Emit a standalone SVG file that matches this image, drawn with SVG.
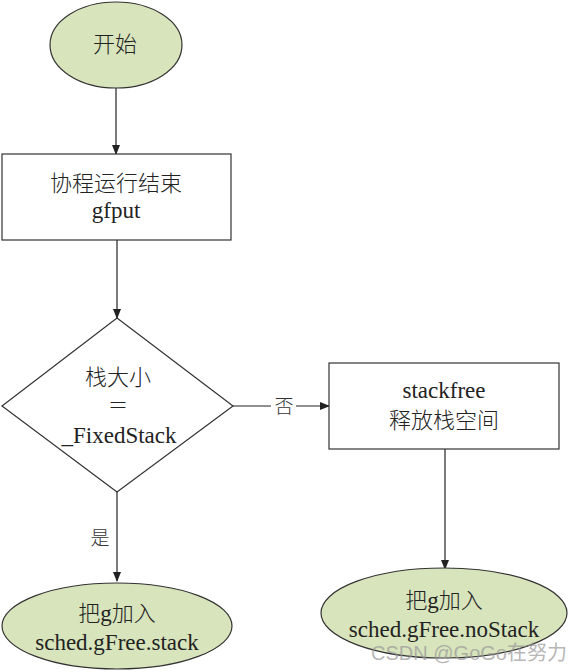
<svg xmlns="http://www.w3.org/2000/svg" width="570" height="672" viewBox="0 0 570 672">
<defs>
<marker id="ah" markerWidth="10" markerHeight="8" refX="9" refY="4" orient="auto" markerUnits="userSpaceOnUse">
<path d="M0,0 L10,4 L0,8 Z" fill="#222"/>
</marker>
<style>
.t{font-family:"Liberation Serif","Times New Roman",Tinos,"DejaVu Serif",serif;font-size:23px;fill:#222;text-anchor:middle}
.c{font-family:"Noto Sans CJK SC","Noto Sans CJK JP",sans-serif;font-size:22px;font-weight:300;fill:#222;text-anchor:middle}
.lbl{font-family:"Noto Sans CJK SC","Noto Sans CJK JP",sans-serif;font-size:19px;font-weight:300;fill:#333;text-anchor:middle}
.term{fill:#d8e4bc;stroke:#333;stroke-width:1.2}
.box{fill:#fff;stroke:#333;stroke-width:1.2}
.ln{stroke:#222;stroke-width:1.2;fill:none}
.wm{font-family:"Liberation Sans","Noto Sans CJK SC",sans-serif;fill:#999;opacity:0.7}
</style>
</defs>
<rect width="570" height="672" fill="#fff"/>
<g id="connectors">
<line class="ln" x1="116" y1="88" x2="116" y2="154" marker-end="url(#ah)"/>
<line class="ln" x1="117" y1="240" x2="117" y2="318" marker-end="url(#ah)"/>
<line class="ln" x1="233" y1="406" x2="271" y2="406"/>
<line class="ln" x1="296" y1="406" x2="329" y2="406" marker-end="url(#ah)"/>
<line class="ln" x1="117" y1="492" x2="117" y2="581" marker-end="url(#ah)"/>
<line class="ln" x1="445" y1="449" x2="445" y2="569" marker-end="url(#ah)"/>
<text class="lbl" x="284" y="413">否</text>
<text class="lbl" x="100" y="545">是</text>
</g>
<g id="start">
<ellipse class="term" cx="116" cy="45" rx="66" ry="43"/>
<text class="c" x="115" y="52">开始</text>
</g>
<g id="gfput">
<rect class="box" x="2" y="154" width="229" height="86"/>
<text class="c" x="116" y="191">协程运行结束</text>
<text class="t" x="116" y="218">gfput</text>
</g>
<g id="decision">
<polygon class="box" points="117,318 233,406 117,492 2,406"/>
<text class="c" x="118" y="385">栈大小</text>
<text class="c" x="118" y="413" style="font-size:20px">＝</text>
<text class="t" x="119" y="443">_FixedStack</text>
</g>
<g id="stackfree">
<rect class="box" x="329" y="363" width="230" height="86"/>
<text class="t" x="444" y="398">stackfree</text>
<text class="c" x="444" y="428">释放栈空间</text>
</g>
<g id="gfree-stack">
<ellipse class="term" cx="117" cy="626" rx="115" ry="43"/>
<text class="c" x="117" y="621">把<tspan class="t" style="font-size:23px">g</tspan>加入</text>
<text class="t" x="117" y="650">sched.gFree.stack</text>
</g>
<g id="gfree-nostack">
<ellipse class="term" cx="444" cy="613" rx="123" ry="45"/>
<text class="c" x="444" y="608">把<tspan class="t" style="font-size:23px">g</tspan>加入</text>
<text class="t" x="444" y="637">sched.gFree.noStack</text>
</g>
<g id="watermark">
<text class="wm" x="469" y="660" font-size="20" text-anchor="middle">CSDN @GoGo在努力</text>
</g>
</svg>
